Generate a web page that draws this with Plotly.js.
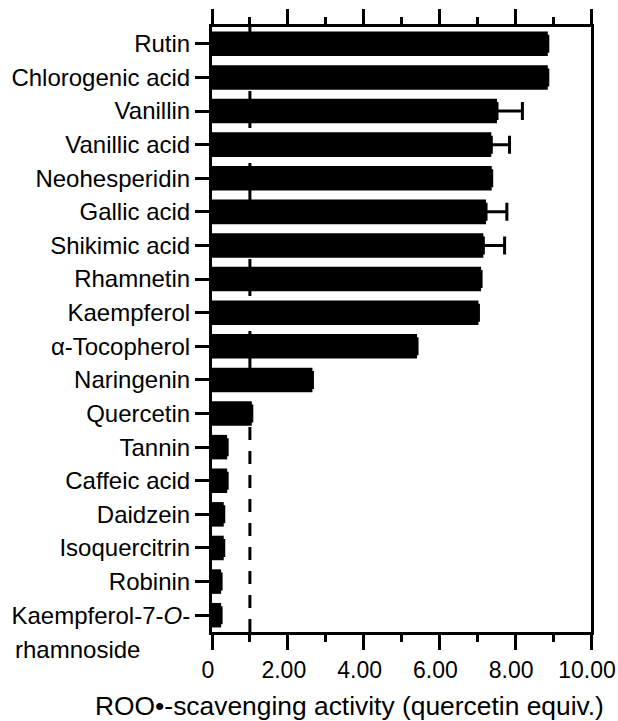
<!DOCTYPE html>
<html>
<head>
<meta charset="utf-8">
<script src="https://cdn.plot.ly/plotly-3.0.1.min.js"></script>
<style>html,body{margin:0;padding:0;background:#fff;}#chart{width:618px;height:721px;}</style>
</head>
<body>
<div id="chart"></div>
<script>
const categories = ['Rutin','Chlorogenic acid','Vanillin','Vanillic acid','Neohesperidin','Gallic acid','Shikimic acid','Rhamnetin','Kaempferol','α-Tocopherol','Naringenin','Quercetin','Tannin','Caffeic acid','Daidzein','Isoquercitrin','Robinin','Kaempferol-7-O-rhamnoside'];
const categoryLabels = ['Rutin','Chlorogenic acid','Vanillin','Vanillic acid','Neohesperidin','Gallic acid','Shikimic acid','Rhamnetin','Kaempferol','α-Tocopherol','Naringenin','Quercetin','Tannin','Caffeic acid','Daidzein','Isoquercitrin','Robinin','Kaempferol-7-<i>O</i>-'];
const activity = [8.86, 8.86, 7.52, 7.37, 7.38, 7.23, 7.16, 7.10, 7.03, 5.41, 2.65, 1.05, 0.40, 0.40, 0.31, 0.31, 0.24, 0.24];
const errorPlus = [null, null, 0.67, 0.48, null, 0.55, 0.56, null, null, null, null, null, null, null, null, null, null, null];
const referenceValue = 1.0;
const xTickVals = [0, 2, 4, 6, 8, 10];
const xTickText = ['0', '2.00', '4.00', '6.00', '8.00', '10.00'];
const xTitle = 'ROO•-scavenging activity (quercetin equiv.)';
const labelSecondLine = 'rhamnoside';

const fam = '"Liberation Sans", Arial, Helvetica, sans-serif';
const yFont = {family: fam, size: 24, color: '#000'};
const xFont = {family: fam, size: 23, color: '#000'};
const titleFont = {family: fam, size: 26.4, color: '#000'};

const trace = {
  type: 'bar',
  orientation: 'h',
  x: activity,
  y: categories,
  width: 0.73,
  marker: {color: '#000', line: {width: 0}},
  error_x: {
    type: 'data', symmetric: false,
    array: errorPlus,
    arrayminus: errorPlus.map(() => 0),
    color: '#000', thickness: 3, width: 9
  },
  hoverinfo: 'skip'
};

const layout = {
  width: 618, height: 721,
  margin: {l: 212, r: 27, t: 27, b: 89},
  paper_bgcolor: '#fff', plot_bgcolor: '#fff',
  font: yFont,
  showlegend: false,
  xaxis: {
    range: [0, 10],
    tickvals: xTickVals, ticktext: xTickText,
    ticks: 'outside', ticklen: 15, tickwidth: 3, tickcolor: '#000',
    minor: {dtick: 1, tick0: 0, ticks: 'outside', ticklen: 7, tickwidth: 3, tickcolor: '#000', showgrid: false},
    showline: true, linewidth: 3, linecolor: '#000', mirror: 'ticks',
    showgrid: false, zeroline: false,
    tickfont: xFont,
    ticklabelshift: -4,
    ticklabeloverflow: 'allow'
  },
  yaxis: {
    type: 'category',
    categoryorder: 'array', categoryarray: categories,
    autorange: false, range: [categories.length - 0.5, -0.5],
    tickvals: categories, ticktext: categoryLabels,
    ticks: 'outside', ticklen: 14, tickwidth: 3, tickcolor: '#000',
    showline: true, linewidth: 3, linecolor: '#000', mirror: true,
    showgrid: false, zeroline: false,
    tickfont: yFont
  },
  shapes: [{
    type: 'line', layer: 'below',
    xref: 'x', yref: 'paper',
    x0: referenceValue, x1: referenceValue, y0: 0, y1: 1,
    line: {color: '#000', width: 3, dash: '13px,11px'}
  }],
  annotations: [{
    xref: 'paper', yref: 'y',
    x: -0.525, y: categories[categories.length - 1],
    xanchor: 'left', yanchor: 'middle',
    yshift: -34,
    text: labelSecondLine, showarrow: false,
    font: yFont
  }, {
    xref: 'paper', yref: 'paper',
    x: 0.364, y: -0.122,
    xanchor: 'center', yanchor: 'middle',
    text: xTitle, showarrow: false,
    font: titleFont
  }]
};

Plotly.newPlot('chart', [trace], layout, {displayModeBar: false, staticPlot: true});
</script>
</body>
</html>
